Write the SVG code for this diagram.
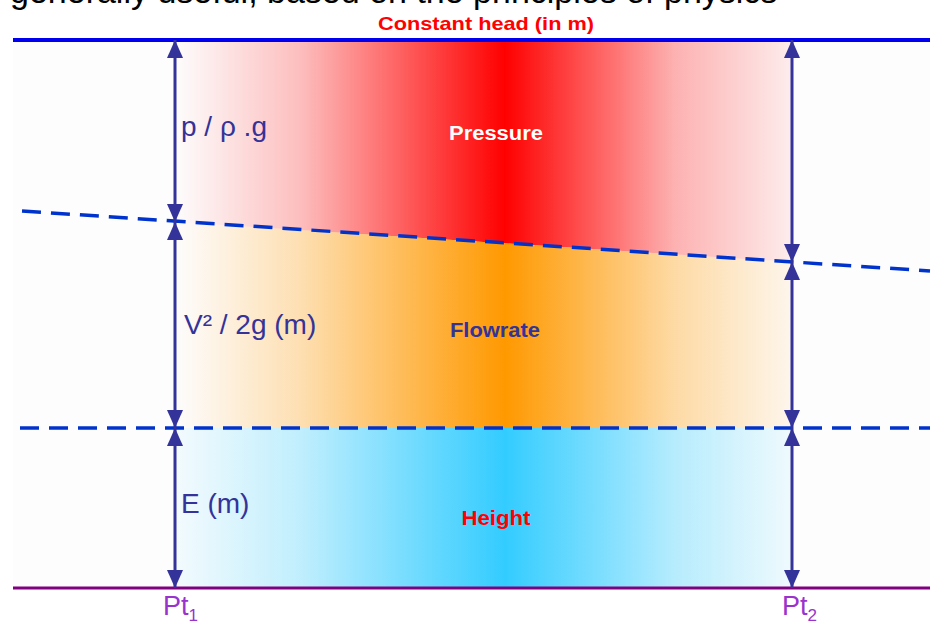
<svg xmlns="http://www.w3.org/2000/svg" width="936" height="623" viewBox="0 0 936 623">
<style>
.lbl{font-family:"Liberation Sans",Arial,sans-serif;font-size:28px;fill:#333399}
.band{font-family:"Liberation Sans",Arial,sans-serif;font-size:20px;font-weight:bold;text-anchor:middle}
.pt{font-family:"Liberation Sans",Arial,sans-serif;font-size:27px;fill:#9933cc}
.dim{stroke:#333399;stroke-width:3;fill:none;marker-start:url(#ah);marker-end:url(#ah)}
.dash{stroke:#0033cc;stroke-width:3.5;fill:none;stroke-dasharray:19 10}
</style>
<defs>
<marker id="ah" viewBox="0 0 18 16" refX="18" refY="8" markerWidth="18" markerHeight="16" markerUnits="userSpaceOnUse" orient="auto-start-reverse">
<path d="M0,0 L18,8 L0,16 z" fill="#333399"/>
</marker>
<linearGradient id="gRed" gradientUnits="userSpaceOnUse" x1="175" y1="0" x2="800" y2="0">
<stop offset="0" stop-color="#ff0000" stop-opacity="0"/>
<stop offset="0.2" stop-color="#ff0000" stop-opacity="0.25"/>
<stop offset="0.528" stop-color="#ff0000" stop-opacity="1"/>
<stop offset="0.8" stop-color="#ff0000" stop-opacity="0.3"/>
<stop offset="1" stop-color="#ff0000" stop-opacity="0.05"/>
</linearGradient>
<linearGradient id="gOr" gradientUnits="userSpaceOnUse" x1="175" y1="0" x2="800" y2="0">
<stop offset="0" stop-color="#ff9900" stop-opacity="0"/>
<stop offset="0.2" stop-color="#ff9900" stop-opacity="0.3"/>
<stop offset="0.528" stop-color="#ff9900" stop-opacity="1"/>
<stop offset="0.8" stop-color="#ff9900" stop-opacity="0.35"/>
<stop offset="1" stop-color="#ff9900" stop-opacity="0.05"/>
</linearGradient>
<linearGradient id="gBl" gradientUnits="userSpaceOnUse" x1="175" y1="0" x2="800" y2="0">
<stop offset="0" stop-color="#33ccff" stop-opacity="0.05"/>
<stop offset="0.2" stop-color="#33ccff" stop-opacity="0.3"/>
<stop offset="0.528" stop-color="#33ccff" stop-opacity="1"/>
<stop offset="0.8" stop-color="#33ccff" stop-opacity="0.35"/>
<stop offset="1" stop-color="#33ccff" stop-opacity="0.05"/>
</linearGradient>
</defs>
<rect x="0" y="0" width="936" height="623" fill="#ffffff"/>
<rect x="13" y="40" width="917" height="548" fill="#fdfdfd"/>
<text x="10" y="3" style="font-family:'Liberation Sans',Arial,sans-serif;font-size:34px;fill:#000">generally useful, based on the principles of physics</text>
<g id="bands">
<polygon points="175,40 792,40 792,262 175,222" fill="url(#gRed)"/>
<polygon points="175,222 792,262 792,428 175,428" fill="url(#gOr)"/>
<rect x="175" y="428" width="617" height="160" fill="url(#gBl)"/>
</g>
<g id="levels">
<line x1="13" y1="40" x2="930" y2="40" stroke="#0000ee" stroke-width="4"/>
<line x1="13" y1="588" x2="930" y2="588" stroke="#800080" stroke-width="3"/>
</g>
<g id="connectors">
<line class="dash" x1="22" y1="211" x2="930" y2="271"/>
<line class="dash" x1="20" y1="428" x2="930" y2="428"/>
<line class="dim" x1="175" y1="40" x2="175" y2="222"/>
<line class="dim" x1="175" y1="222" x2="175" y2="428"/>
<line class="dim" x1="175" y1="428" x2="175" y2="588"/>
<line class="dim" x1="792" y1="40" x2="792" y2="262"/>
<line class="dim" x1="792" y1="262" x2="792" y2="428"/>
<line class="dim" x1="792" y1="428" x2="792" y2="588"/>
</g>
<g id="title"><text x="486" y="30" class="band" style="fill:#ff0000;font-size:19px" textLength="216" lengthAdjust="spacingAndGlyphs">Constant head (in m)</text></g>
<g id="pressure"><text x="496" y="140" class="band" fill="#ffffff" textLength="94" lengthAdjust="spacingAndGlyphs">Pressure</text></g>
<g id="flowrate"><text x="495" y="337" class="band" fill="#333399" textLength="90" lengthAdjust="spacingAndGlyphs">Flowrate</text></g>
<g id="height"><text x="496" y="525" class="band" fill="#ff0000" textLength="69" lengthAdjust="spacingAndGlyphs">Height</text></g>
<g id="lbl-p"><text x="181" y="136" class="lbl">p / ρ .g</text></g>
<g id="lbl-v"><text x="184" y="334" class="lbl">V² / 2g (m)</text></g>
<g id="lbl-e"><text x="181" y="513" class="lbl">E (m)</text></g>
<g id="pt1"><text x="163" y="615" class="pt">Pt<tspan font-size="17" dy="6">1</tspan></text></g>
<g id="pt2"><text x="782" y="615" class="pt">Pt<tspan font-size="17" dy="6">2</tspan></text></g>
</svg>
